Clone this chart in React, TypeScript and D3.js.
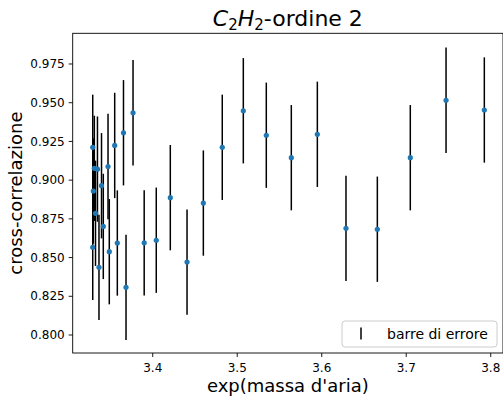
import React from "react";
import * as d3 from "d3";

const xValues = [
  3.329, 3.3309, 3.3346, 3.3297, 3.3394, 3.3471, 3.355, 3.3654, 3.3767, 3.3323,
  3.3415, 3.329, 3.3364, 3.3486, 3.3581, 3.3684, 3.3899, 3.4042, 3.4208, 3.4406,
  3.4599, 3.4823, 3.5072, 3.5344, 3.564, 3.5948, 3.6287, 3.6658, 3.7048, 3.7471, 3.7924,
];
const yValues = [
  0.9212, 0.9076, 0.9071, 0.893, 0.8964, 0.9088, 0.9224, 0.9306, 0.9435, 0.8786,
  0.8701, 0.8566, 0.8437, 0.8538, 0.8594, 0.8308, 0.8595, 0.8612, 0.8887, 0.8471,
  0.8852, 0.9212, 0.9448, 0.929, 0.9145, 0.9296, 0.8689, 0.8683, 0.9145, 0.9516, 0.9453,
];
const yErrors = [
  0.034, 0.034, 0.034, 0.034, 0.034, 0.034, 0.034, 0.034, 0.034, 0.034,
  0.034, 0.034, 0.034, 0.034, 0.034, 0.034, 0.034, 0.034, 0.034, 0.034,
  0.034, 0.034, 0.034, 0.034, 0.034, 0.034, 0.034, 0.034, 0.034, 0.034, 0.034,
];
const xTicks = [3.4, 3.5, 3.6, 3.7, 3.8];
const yTicks = [0.8, 0.825, 0.85, 0.875, 0.9, 0.925, 0.95, 0.975];
const legendLabel = "barre di errore";
const xLabel = "exp(massa d'aria)";
const yLabel = "cross-correlazione";

const FONT = "DejaVu Sans";

export default function App() {
  const W = 503;
  const H = 403;
  const left = 72.7, right = 503, top = 33.3, bottom = 353;
  const x = d3.scaleLinear().domain([3.3053, 3.8145]).range([left, right]);
  const y = d3.scaleLinear().domain([0.78838, 0.99482]).range([bottom, top]);
  const pts = xValues.map((xv, i) => ({ x: xv, y: yValues[i], e: yErrors[i] }));

  return (
    <div style={{ position: "absolute", left: 0, top: 0 }}>
      <svg width={W} height={H} style={{ display: "block" }} fontFamily={FONT}>
        <rect x={0} y={0} width={W} height={H} fill="white" />
        {/* error bars */}
        {pts.map((p, i) => (
          <line key={"e" + i} x1={x(p.x)} x2={x(p.x)} y1={y(p.y - p.e)} y2={y(p.y + p.e)}
            stroke="#000" strokeWidth={1.5} />
        ))}
        {pts.map((p, i) => (
          <circle key={"c" + i} cx={x(p.x)} cy={y(p.y)} r={2.6} fill="#1f77b4" />
        ))}
        {/* spines */}
        <rect x={left} y={top} width={right - left} height={bottom - top} fill="none" stroke="#000" strokeWidth={0.9} />
        {/* x ticks */}
        {xTicks.map((t) => (
          <g key={"xt" + t} transform={`translate(${x(t)},${bottom})`}>
            <line y1={0} y2={4} stroke="#000" strokeWidth={0.9} />
            <text y={19} textAnchor="middle" fontSize={12} fill="#000">{t.toFixed(1)}</text>
          </g>
        ))}
        {yTicks.map((t) => (
          <g key={"yt" + t} transform={`translate(${left},${y(t)})`}>
            <line x1={0} x2={-4} stroke="#000" strokeWidth={0.9} />
            <text x={-8} dy="0.35em" textAnchor="end" fontSize={12} fill="#000">{t.toFixed(3)}</text>
          </g>
        ))}
        {/* labels */}
        <text x={(left + right) / 2} y={392} textAnchor="middle" fontSize={18} fill="#000">{xLabel}</text>
        <text transform={`translate(22,${(top + bottom) / 2}) rotate(-90)`} textAnchor="middle" fontSize={18} fill="#000">{yLabel}</text>
        {/* title */}
        <text x={(left + right) / 2} y={26} textAnchor="middle" fontSize={22} fill="#000">
          <tspan fontStyle="italic">C</tspan>
          <tspan fontSize={15} dy={4}>2</tspan>
          <tspan fontStyle="italic" dy={-4}>H</tspan>
          <tspan fontSize={15} dy={4}>2</tspan>
          <tspan dy={-4}>-ordine 2</tspan>
        </text>
        {/* legend */}
        <rect x={342} y={321} width={155} height={26} rx={3} fill="white" fillOpacity={0.8} stroke="#cccccc" strokeWidth={1} />
        <line x1={361} x2={361} y1={327.5} y2={339.5} stroke="#000" strokeWidth={1.5} />
        <text x={387} y={339} fontSize={14} fill="#000">{legendLabel}</text>
      </svg>
    </div>
  );
}
